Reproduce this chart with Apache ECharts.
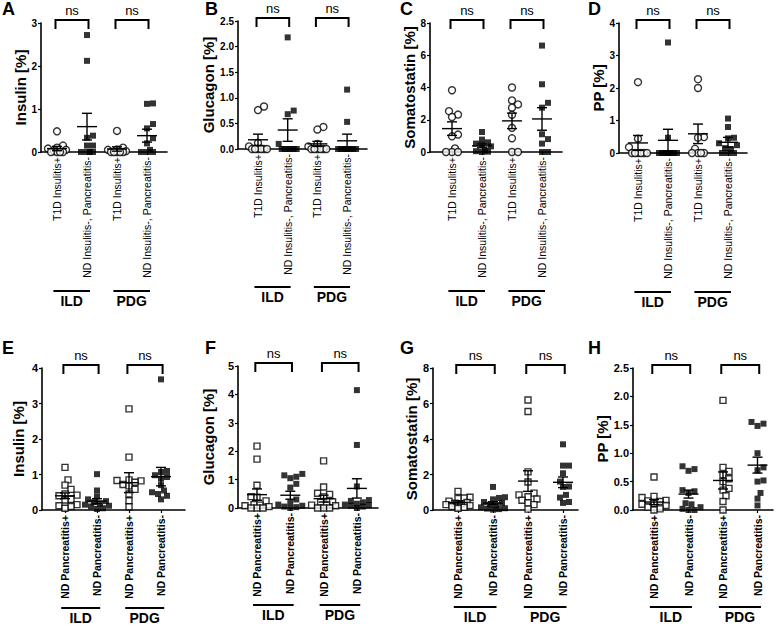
<!DOCTYPE html>
<html><head><meta charset="utf-8">
<script src="https://cdn.jsdelivr.net/npm/echarts@6/dist/echarts.min.js"></script>
<style>html,body{margin:0;padding:0;background:#fff}#c{width:777px;height:629px}</style>
</head><body><div id="c"></div>
<script>
// ---------- categories / labels ----------
const catsTop = ['T1D Insulitis+', 'ND Insulitis-, Pancreatitis-', 'T1D Insulitis+', 'ND Insulitis-, Pancreatitis-'];
const catsBottom = ['ND Pancreatitis+', 'ND Pancreatitis-', 'ND Pancreatitis+', 'ND Pancreatitis-'];
const groupNames = ['ILD', 'PDG'];
const sigText = 'ns';
const panelLetters = ['A', 'B', 'C', 'D', 'E', 'F', 'G', 'H'];
const yTitles = ['Insulin [%]', 'Glucagon [%]', 'Somatostatin [%]', 'PP [%]', 'Insulin [%]', 'Glucagon [%]', 'Somatostatin [%]', 'PP [%]'];
const yMax = [3, 2.5, 8, 4, 4, 5, 8, 2.5];
const yStep = [1, 0.5, 2, 1, 1, 1, 2, 0.5];
const yDecimals = [0, 1, 0, 0, 0, 0, 0, 1];

// ---------- values (per category: ILD +, ILD -, PDG +, PDG -) ----------
const A_vals = [
  [0.48, 0.15, 0.1, 0.08, 0.05, 0.02, 0, 0, 0, 0],
  [2.72, 2.12, 0.38, 0.33, 0.15, 0.15, 0, 0, 0, 0],
  [0.49, 0.1, 0.06, 0.05, 0.02, 0, 0, 0, 0, 0],
  [1.13, 1.12, 0.65, 0.55, 0.32, 0.2, 0.05, 0, 0, 0]];
const A_mean = [0.08, 0.59, 0.07, 0.38];
const A_sem = [0.05, 0.31, 0.05, 0.15];

const B_vals = [
  [0.83, 0.76, 0.12, 0.05, 0, 0, 0, 0, 0, 0],
  [2.18, 0.75, 0.68, 0.1, 0, 0, 0, 0, 0, 0],
  [0.43, 0.38, 0.1, 0.05, 0, 0, 0, 0, 0, 0],
  [1.16, 0.53, 0, 0, 0, 0, 0, 0, 0, 0]];
const B_mean = [0.18, 0.37, 0.1, 0.16];
const B_sem = [0.11, 0.22, 0.05, 0.13];

const C_vals = [
  [3.83, 2.53, 2.32, 2.17, 1.08, 0.97, 0.22, 0, 0, 0],
  [1.24, 0.77, 0.6, 0.52, 0.45, 0.35, 0.1, 0.05, 0.02, 0],
  [4.0, 3.2, 2.95, 2.75, 2.3, 1.5, 0.85, 0, 0],
  [6.6, 4.2, 3.05, 2.75, 1.1, 0.8, 0.52, 0, 0]];
const C_mean = [1.45, 0.38, 1.93, 2.05];
const C_sem = [0.42, 0.12, 0.48, 0.7];

const D_vals = [
  [2.18, 0.44, 0.18, 0, 0, 0, 0, 0, 0],
  [3.4, 0.47, 0, 0, 0, 0, 0, 0, 0, 0],
  [2.27, 2.0, 0.49, 0.47, 0.13, 0, 0, 0, 0],
  [1.06, 0.8, 0.47, 0.45, 0.3, 0.24, 0.15, 0.12, 0, 0, 0]];
const D_mean = [0.31, 0.39, 0.59, 0.33];
const D_sem = [0.23, 0.34, 0.3, 0.15];

const E_vals = [
  [1.2, 0.85, 0.7, 0.58, 0.45, 0.42, 0.4, 0.3, 0.28, 0.15, 0.12, 0.1, 0.05],
  [1.01, 0.55, 0.38, 0.3, 0.25, 0.22, 0.18, 0.15, 0.12, 0.1, 0.05, 0.03],
  [2.85, 1.49, 0.85, 0.83, 0.82, 0.78, 0.72, 0.68, 0.58, 0.45, 0.26, 0.09],
  [3.68, 1.1, 1.07, 0.98, 0.93, 0.88, 0.7, 0.55, 0.5, 0.45, 0.4, 0.3]];
const E_mean = [0.4, 0.25, 0.77, 0.94];
const E_sem = [0.08, 0.07, 0.28, 0.26];

const F_vals = [
  [2.18, 1.72, 0.8, 0.4, 0.38, 0.25, 0.12, 0.1, 0.08, 0.05, 0, 0, 0],
  [1.2, 1.15, 1.1, 1.05, 0.85, 0.72, 0.3, 0.2, 0.12, 0.08, 0.05, 0.03, 0],
  [1.66, 0.74, 0.52, 0.48, 0.39, 0.22, 0.2, 0.1, 0.1, 0.08, 0, 0, 0],
  [4.15, 2.22, 0.76, 0.28, 0.25, 0.2, 0.15, 0.12, 0.1, 0.08, 0.05, 0]];
const F_mean = [0.47, 0.45, 0.33, 0.69];
const F_sem = [0.2, 0.14, 0.12, 0.34];

const G_vals = [
  [1.05, 0.72, 0.68, 0.65, 0.5, 0.42, 0.38, 0.35, 0.3, 0.25, 0.2, 0.15, 0.1],
  [1.3, 0.72, 0.68, 0.6, 0.45, 0.4, 0.3, 0.25, 0.15, 0.1, 0.08, 0.05, 0.02],
  [6.2, 5.55, 2.15, 1.58, 0.95, 0.85, 0.75, 0.62, 0.55, 0.4, 0.3, 0.05],
  [3.7, 2.5, 2.5, 2.07, 1.6, 1.32, 1.3, 0.85, 0.7, 0.45, 0.4]];
const G_mean = [0.42, 0.39, 1.63, 1.56];
const G_sem = [0.08, 0.08, 0.58, 0.3];

const H_vals = [
  [0.58, 0.24, 0.22, 0.17, 0.16, 0.15, 0.12, 0.1, 0.08, 0.05, 0.02, 0],
  [0.77, 0.72, 0.69, 0.35, 0.33, 0.3, 0.12, 0.1, 0.05, 0.02, 0, 0],
  [1.93, 0.75, 0.68, 0.62, 0.55, 0.5, 0.38, 0.35, 0.25, 0.15, 0],
  [1.55, 1.52, 1.48, 1.0, 0.75, 0.7, 0.52, 0.5, 0.3, 0.2, 0.08]];
const H_mean = [0.14, 0.28, 0.52, 0.79];
const H_sem = [0.045, 0.07, 0.15, 0.14];

// ---------- layout (pixels) ----------
const layout = [
  {left: 41, top: 23, w: 126, h: 129, c1: 57, sp: 30, gap: 9, grp: 139, lx: 2, ly: 0},
  {left: 238, top: 21, w: 129, h: 128, c1: 258, sp: 29.7, gap: 16, grp: 138, lx: 205, ly: 0},
  {left: 430, top: 23, w: 132, h: 129, c1: 452, sp: 30, gap: 8, grp: 139, lx: 400, ly: 0},
  {left: 619, top: 23, w: 128, h: 130, c1: 638, sp: 30, gap: 7, grp: 139, lx: 588, ly: 0},
  {left: 42, top: 368, w: 143, h: 142, c1: 65, sp: 32, gap: 16, grp: 98, lx: 2, ly: 339},
  {left: 238, top: 366, w: 140, h: 142, c1: 257, sp: 33.3, gap: 22, grp: 97, lx: 205, ly: 339},
  {left: 433, top: 368, w: 145, h: 142, c1: 458, sp: 35, gap: 11, grp: 97, lx: 400, ly: 339},
  {left: 633, top: 368, w: 140, h: 142, c1: 654, sp: 34.5, gap: 22, grp: 97, lx: 588, ly: 339}
];

const panelVals = [A_vals, B_vals, C_vals, D_vals, E_vals, F_vals, G_vals, H_vals];
const panelMean = [A_mean, B_mean, C_mean, D_mean, E_mean, F_mean, G_mean, H_mean];
const panelSem = [A_sem, B_sem, C_sem, D_sem, E_sem, F_sem, G_sem, H_sem];

const FONT = '"Liberation Sans", Arial, Helvetica, sans-serif';

// compact beeswarm offsets (pixel based, limited width; returns offsets in axis units)
function swarm(vals, pxX, pxY, d, maxOff) {
  const idx = vals.map((v, i) => i).sort((a, b) => vals[a] - vals[b]);
  const placed = [];
  const out = new Array(vals.length).fill(0);
  const step = d / 2;
  const cands = [0];
  for (let k = step; k <= maxOff + 0.01; k += step) { cands.push(k, -k); }
  for (const i of idx) {
    const y = vals[i] * pxY;
    let best = 0, bestD = -1, found = false;
    for (const cand of cands) {
      const md = placed.reduce((m, p) => Math.min(m, Math.hypot(p.x - cand, p.y - y)), Infinity);
      if (md >= d - 0.01) { best = cand; found = true; break; }
      if (md > bestD + 0.01) { bestD = md; best = cand; }
    }
    placed.push({x: best, y});
    out[i] = best / pxX;
  }
  return out;
}

const grids = [], xAxes = [], yAxes = [], series = [], titles = [];
const black = '#000';

layout.forEach((L, i) => {
  const top = i < 4;
  const cats = top ? catsTop : catsBottom;
  const xmin = 1 - (L.c1 - L.left) / L.sp;
  const xmax = xmin + L.w / L.sp;
  const ymax = yMax[i];
  grids.push({left: L.left, top: L.top, width: L.w, height: L.h, containLabel: false, outerBoundsMode: 'none'});
  xAxes.push({
    type: 'value', gridIndex: i, min: xmin, max: xmax,
    axisLine: {show: true, onZero: false, lineStyle: {color: black, width: 1.6}},
    axisTick: {show: true, customValues: [1, 2, 3, 4], length: 3, lineStyle: {color: black, width: 1.2}},
    axisLabel: {show: true, customValues: [1, 2, 3, 4], rotate: 90, margin: 5,
      formatter: v => cats[Math.round(v) - 1] || '',
      fontSize: 10.5, fontWeight: top ? 'normal' : 'bold', color: black, fontFamily: FONT},
    splitLine: {show: false}
  });
  yAxes.push({
    type: 'value', gridIndex: i, min: 0, max: ymax, interval: yStep[i],
    name: yTitles[i], nameLocation: 'middle', nameGap: L.gap,
    nameTextStyle: {fontSize: 15, fontWeight: 'bold', color: black, fontFamily: FONT},
    axisLine: {show: true, onZero: false, lineStyle: {color: black, width: 1.6}},
    axisTick: {show: true, length: 3, lineStyle: {color: black, width: 1.2}},
    axisLabel: {show: true, margin: 4, formatter: v => v.toFixed(yDecimals[i]),
      fontSize: top ? 10 : 11, fontWeight: 'bold', color: black, fontFamily: FONT},
    splitLine: {show: false}
  });
  titles.push({text: panelLetters[i], left: L.lx, top: L.ly, padding: 0,
    textStyle: {fontSize: 18, fontWeight: 'bold', color: black, fontFamily: FONT}});

  const pxY = L.h / ymax;
  const vals = panelVals[i];
  vals.forEach((arr, c) => {
    const open = c % 2 === 0;
    const circle = top && open;
    const size = circle ? 7 : 6;
    const offs = swarm(arr, L.sp, pxY, circle ? 6 : 6, top ? 10.5 : 12);
    series.push({
      type: 'scatter', xAxisIndex: i, yAxisIndex: i, silent: true, z: 3,
      symbol: circle ? 'circle' : 'rect', symbolSize: size,
      itemStyle: open ? {color: '#fff', borderColor: black, borderWidth: 1.4} : {color: black, borderWidth: 0},
      data: arr.map((v, k) => [c + 1 + offs[k], v])
    });
  });

  // mean +/- SEM
  const means = panelMean[i], sems = panelSem[i];
  series.push({
    type: 'custom', xAxisIndex: i, yAxisIndex: i, silent: true, z: 5, clip: false,
    encode: {x: 0, y: 1},
    data: means.map((m, c) => [c + 1, m, sems[c]]),
    renderItem: (params, api) => {
      const x = api.value(0), m = api.value(1), s = api.value(2);
      const pm = api.coord([x, m]), pt = api.coord([x, m + s]), pb = api.coord([x, Math.max(0, m - s)]);
      const st = {stroke: black, lineWidth: 1.4};
      return {type: 'group', children: [
        {type: 'line', shape: {x1: pm[0] - 10, y1: pm[1], x2: pm[0] + 10, y2: pm[1]}, style: st},
        {type: 'line', shape: {x1: pt[0], y1: pt[1], x2: pb[0], y2: pb[1]}, style: st},
        {type: 'line', shape: {x1: pt[0] - 5, y1: pt[1], x2: pt[0] + 5, y2: pt[1]}, style: st},
        {type: 'line', shape: {x1: pb[0] - 5, y1: pb[1], x2: pb[0] + 5, y2: pb[1]}, style: st}
      ]};
    }
  });

  // significance brackets + group bars/labels
  series.push({
    type: 'custom', xAxisIndex: i, yAxisIndex: i, silent: true, z: 6, clip: false,
    encode: {x: 0, y: 1},
    data: [[1, 0, 2], [3, 0, 4]],
    renderItem: (params, api) => {
      const a = api.value(0), b = api.value(2);
      const pad = 0.05;
      const Lp = api.coord([a - pad, ymax]), Rp = api.coord([b + pad, ymax]);
      const y0 = api.coord([a, 0])[1];
      const tp = Lp[1] - 3;
      const gL = api.coord([a - 0.12, 0]), gR = api.coord([b + 0.1, 0]);
      const gy = y0 + L.grp;
      return {type: 'group', children: [
        {type: 'polyline', shape: {points: [[Lp[0], tp + 9], [Lp[0], tp], [Rp[0], tp], [Rp[0], tp + 9]]},
          style: {stroke: black, lineWidth: 2, fill: 'none'}},
        {type: 'text', x: (Lp[0] + Rp[0]) / 2, y: tp - 9.5,
          style: {text: sigText, fill: black, font: '13px ' + FONT, align: 'center', verticalAlign: 'middle'}},
        {type: 'line', shape: {x1: gL[0], y1: gy, x2: gR[0], y2: gy}, style: {stroke: black, lineWidth: 2}},
        {type: 'text', x: (gL[0] + gR[0]) / 2, y: gy + 10,
          style: {text: groupNames[params.dataIndex], fill: black, font: 'bold 14px ' + FONT, align: 'center', verticalAlign: 'middle'}}
      ]};
    }
  });
});

const chart = echarts.init(document.getElementById('c'), null, {renderer: 'svg', width: 777, height: 629});
chart.setOption({
  animation: false,
  backgroundColor: '#fff',
  title: titles,
  grid: grids,
  xAxis: xAxes,
  yAxis: yAxes,
  series: series
});
</script>
</body></html>
